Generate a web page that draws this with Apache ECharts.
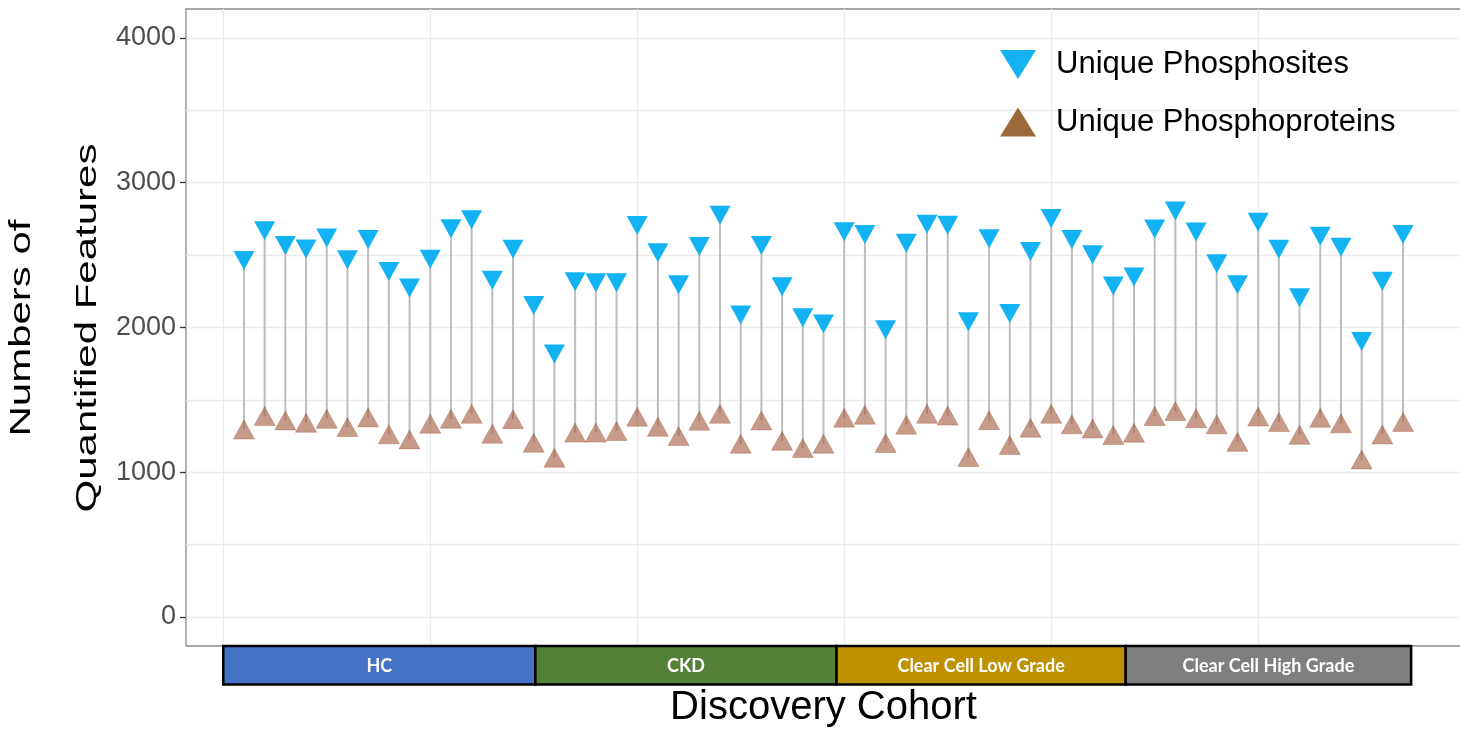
<!DOCTYPE html>
<html>
<head>
<meta charset="utf-8">
<script src="https://cdn.jsdelivr.net/npm/echarts@6/dist/echarts.min.js"></script>
<style>
  html, body { margin: 0; padding: 0; background: #fff; }
  #chart { width: 1460px; height: 729px; }
</style>
</head>
<body>
<div id="chart"></div>
<script>
// Quantified phosphosites / phosphoproteins per sample, discovery cohort
const phosphosites = [
  2463, 2669, 2567, 2543, 2619, 2468, 2608, 2386, 2273, 2472,
  2682, 2745, 2327, 2541, 2152, 1817, 2316, 2309, 2309, 2705,
  2516, 2295, 2560, 2775, 2086, 2566, 2281, 2067, 2024, 2662,
  2643, 1985, 2582, 2714, 2707, 2039, 2613, 2097, 2525, 2753,
  2607, 2502, 2287, 2349, 2681, 2804, 2660, 2441, 2295, 2727,
  2540, 2205, 2630, 2554, 1904, 2319, 2642
];
const phosphoproteins = [
  1296, 1388, 1358, 1342, 1369, 1312, 1379, 1262, 1227, 1336,
  1370, 1404, 1266, 1366, 1204, 1100, 1274, 1274, 1285, 1384,
  1315, 1250, 1356, 1404, 1197, 1358, 1217, 1168, 1197, 1377,
  1398, 1202, 1329, 1404, 1392, 1105, 1360, 1188, 1308, 1404,
  1332, 1302, 1258, 1273, 1389, 1423, 1373, 1331, 1210, 1385,
  1347, 1259, 1376, 1338, 1088, 1261, 1348
];
const seriesNames = ['Unique Phosphosites', 'Unique Phosphoproteins'];

// Cohort groups along the sample axis (sample-number units)
const groupNames = ['HC', 'CKD', 'Clear Cell Low Grade', 'Clear Cell High Grade'];
const groupEdges = [0, 15.08, 29.63, 43.6, 57.39];

// Axis breaks
const yTickValues = [0, 1000, 2000, 3000, 4000];
const yGridValues = [0, 500, 1000, 1500, 2000, 2500, 3000, 3500, 4000];
const xGridValues = [0, 10, 20, 30, 40, 50];

// Styles
const groupColors = ['#4472C4', '#538135', '#BF9000', '#7F7F7F'];
const blue = '#12B2F3';
const brown = '#9B6A3B';
const brownPoint = '#A0583A';
const font = '"Liberation Sans", Arial, sans-serif';

const sampleNo = phosphosites.map((_, i) => i + 1);
const siteData = sampleNo.map((n, i) => [n, phosphosites[i]]);
const protData = sampleNo.map((n, i) => [n, phosphoproteins[i]]);
const stemData = sampleNo.map((n, i) => [n, phosphoproteins[i], phosphosites[i]]);
const groupData = groupNames.map((g, i) => [groupEdges[i], groupEdges[i + 1], i]);

const xMin = 1 - 0.05 * (sampleNo.length - 1);
const xMax = sampleNo.length + 0.05 * (sampleNo.length - 1);

const chart = echarts.init(document.getElementById('chart'), null, { renderer: 'canvas' });

chart.setOption({
  animation: false,
  backgroundColor: '#ffffff',
  grid: [
    { left: 186, top: 9, right: -1, height: 637, show: true, outerBoundsMode: 'none',
      borderColor: '#8A8A8A', borderWidth: 1.3, backgroundColor: 'transparent' },
    { left: 186, top: 646, right: -1, height: 38.5, show: false, outerBoundsMode: 'none' }
  ],
  xAxis: [
    { type: 'value', gridIndex: 0, min: xMin, max: xMax,
      axisLine: { show: false, onZero: false }, axisTick: { show: false },
      axisLabel: { show: false }, splitLine: { show: false },
      name: 'Discovery Cohort', nameLocation: 'middle', nameGap: 42,
      nameTextStyle: { fontFamily: font, fontSize: 40, color: '#000' } },
    { type: 'value', gridIndex: 1, min: xMin, max: xMax, show: false }
  ],
  yAxis: [
    { type: 'value', gridIndex: 0, min: -200, max: 4200,
      axisLine: { show: false, onZero: false },
      axisTick: { show: true, length: 6, customValues: yTickValues,
        lineStyle: { color: '#333', width: 1.3 } },
      axisLabel: { customValues: yTickValues, fontFamily: font, fontSize: 27,
        color: '#4D4D4D', margin: 10, formatter: v => String(v) },
      splitLine: { show: false } },
    { type: 'value', gridIndex: 1, min: 0, max: 1, show: false }
  ],
  legend: {
    left: 995, top: 44, orient: 'vertical',
    itemWidth: 36, itemHeight: 29, itemGap: 26.5,
    textStyle: { fontFamily: font, fontSize: 31, color: '#000', padding: [0, 0, 0, 15] },
    data: [
      { name: seriesNames[0], icon: 'path://M0,0L36,0L18,29Z', itemStyle: { color: blue, opacity: 1 } },
      { name: seriesNames[1], icon: 'path://M18,0L36,29L0,29Z', itemStyle: { color: brown, opacity: 1, borderWidth: 0 } }
    ]
  },
  graphic: [
    { type: 'text', x: 55, y: 328, rotation: Math.PI / 2, scaleY: 0.7, silent: true,
      style: { text: 'Numbers of\nQuantified Features', font: '42px ' + font,
        fill: '#000', align: 'center', verticalAlign: 'middle', lineHeight: 94 } }
  ],
  series: [
    // panel grid lines
    { type: 'scatter', xAxisIndex: 0, yAxisIndex: 0, data: [], z: 1, silent: true,
      markLine: { silent: true, symbol: 'none', animation: false, z: 1, label: { show: false },
        lineStyle: { color: '#EBEBEB', width: 1.3, type: 'solid' },
        data: yGridValues.map(v => ({ yAxis: v })).concat(xGridValues.map(v => ({ xAxis: v }))) } },
    // stems from protein count to site count
    { type: 'custom', xAxisIndex: 0, yAxisIndex: 0, z: 6, silent: true,
      data: stemData,
      renderItem: function (params, api) {
        const a = api.coord([api.value(0), api.value(1)]);
        const b = api.coord([api.value(0), api.value(2)]);
        return { type: 'line', shape: { x1: a[0], y1: a[1], x2: b[0], y2: b[1] },
          style: { stroke: '#BDBDBD', lineWidth: 2 } };
      } },
    { name: seriesNames[1], type: 'scatter', xAxisIndex: 0, yAxisIndex: 0, z: 7,
      data: protData, symbol: 'path://M10.5,0L21,19L0,19Z', symbolSize: [21, 19],
      itemStyle: { color: brownPoint, opacity: 0.6, borderColor: brownPoint, borderWidth: 0.6 } },
    { name: seriesNames[0], type: 'scatter', xAxisIndex: 0, yAxisIndex: 0, z: 8,
      data: siteData, symbol: 'path://M0,0L21,0L10.5,19Z', symbolSize: [21, 19],
      itemStyle: { color: blue, opacity: 1 } },
    // cohort bands below the panel
    { type: 'custom', xAxisIndex: 1, yAxisIndex: 1, z: 9, silent: true,
      data: groupData,
      renderItem: function (params, api) {
        const s = api.coord([api.value(0), 1]);
        const e = api.coord([api.value(1), 0]);
        const idx = api.value(2);
        return { type: 'group', children: [
          { type: 'rect', shape: { x: s[0], y: s[1], width: e[0] - s[0], height: e[1] - s[1] },
            style: { fill: groupColors[idx], stroke: '#000', lineWidth: 2.5 } },
          { type: 'text', x: (s[0] + e[0]) / 2, y: (s[1] + e[1]) / 2 + 1,
            style: { text: groupNames[idx], fill: '#fff', align: 'center', verticalAlign: 'middle',
              font: 'bold 18px Lato, "Open Sans", sans-serif' } }
        ] };
      } }
  ]
});
</script>
</body>
</html>
